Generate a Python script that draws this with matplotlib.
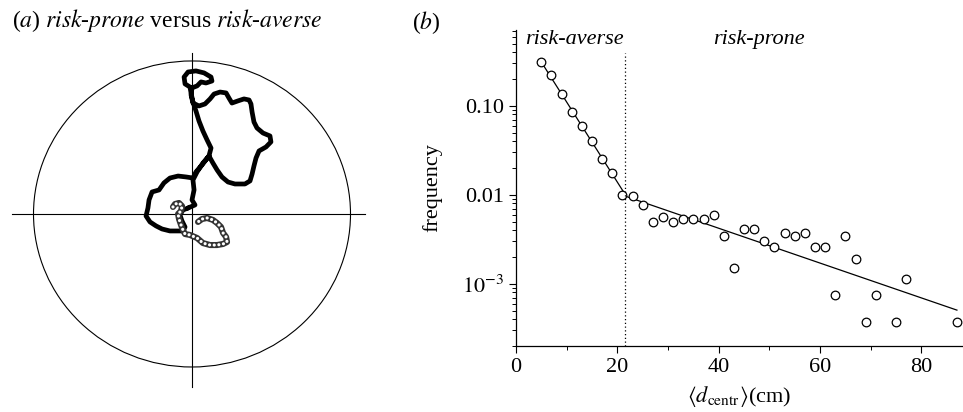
import numpy as np
import matplotlib
matplotlib.use('Agg')
import matplotlib.pyplot as plt
from matplotlib.patches import Ellipse
from matplotlib.ticker import FixedLocator, FixedFormatter, LogLocator, NullFormatter

plt.rcParams['font.family'] = ['Liberation Serif', 'DejaVu Serif']
plt.rcParams['mathtext.fontset'] = 'stix'

# ---------------- panel (a): trajectory in arena units (arena radius = 1) -------------
prone_x = [-0.025, 0.019, 0.0, 0.013, 0.006, 0.032, 0.069, 0.107, 0.120, 0.095, 0.069, 0.044,
           0.025, 0.006, -0.006, -0.013, -0.044, -0.050, -0.025, 0.025, 0.076, 0.120, 0.126,
           0.088, 0.057, 0.032, 0.0, -0.006, 0.006, 0.044, 0.082, 0.114, 0.139, 0.177, 0.215,
           0.233, 0.252, 0.290, 0.328, 0.360, 0.372, 0.379, 0.391, 0.410, 0.448, 0.492, 0.498,
           0.467, 0.423, 0.404, 0.391, 0.379, 0.366, 0.334, 0.271, 0.227, 0.189, 0.158, 0.132,
           0.107, 0.063, 0.025, 0.006, -0.038, -0.088, -0.139, -0.177, -0.208, -0.252, -0.271,
           -0.278, -0.290, -0.265, -0.227, -0.189, -0.139, -0.088, -0.057, -0.044, -0.063,
           -0.076, -0.057, -0.025]
prone_y = [0.039, 0.059, 0.092, 0.157, 0.222, 0.275, 0.333, 0.379, 0.431, 0.484, 0.542, 0.608,
           0.673, 0.732, 0.791, 0.830, 0.850, 0.895, 0.928, 0.935, 0.922, 0.895, 0.869,
           0.856, 0.863, 0.837, 0.824, 0.778, 0.725, 0.706, 0.719, 0.752, 0.784, 0.797, 0.791,
           0.758, 0.725, 0.739, 0.752, 0.745, 0.719, 0.667, 0.601, 0.562, 0.529, 0.510, 0.471,
           0.438, 0.412, 0.366, 0.314, 0.261, 0.216, 0.196, 0.196, 0.209, 0.242, 0.288, 0.333,
           0.379, 0.320, 0.275, 0.235, 0.242, 0.248, 0.235, 0.203, 0.157, 0.144, 0.092,
           0.039, -0.013, -0.052, -0.078, -0.098, -0.111, -0.111, -0.111, -0.085, -0.046,
           -0.007, 0.026, 0.039]

averse_x = [-0.120, -0.107, -0.082, -0.063, -0.069, -0.088, -0.082, -0.069, -0.057, -0.044,
            -0.013, 0.032, 0.069, 0.114, 0.158, 0.196, 0.221, 0.215, 0.196, 0.183, 0.158,
            0.132, 0.095, 0.063, 0.038]
averse_y = [0.046, 0.065, 0.072, 0.052, 0.020, 0.0, -0.033, -0.072, -0.105, -0.131,
            -0.137, -0.157, -0.190, -0.203, -0.203, -0.196, -0.183, -0.150, -0.124, -0.085,
            -0.059, -0.039, -0.026, -0.033, -0.052]

# ---------------- panel (b): distribution of mean distance to centre -------------------
dist = [5, 7, 9, 11, 13, 15, 17, 19, 21, 23, 25, 27, 29, 31, 33, 35, 37, 39, 41, 43, 45,
        47, 49, 51, 53, 55, 57, 59, 61, 63, 65, 67, 69, 71, 75, 77, 87]
freq = [0.31, 0.219, 0.136, 0.0857, 0.0586, 0.040, 0.0253, 0.0174, 0.0100, 0.0098, 0.0076,
        0.0049, 0.0057, 0.0049, 0.0053, 0.0053, 0.0053, 0.0060, 0.0034, 0.0015, 0.0041,
        0.0041, 0.0030, 0.0026, 0.0037, 0.0034, 0.0037, 0.0026, 0.0026, 0.00075, 0.0034,
        0.0019, 0.00037, 0.00075, 0.00037, 0.00114, 0.00037]
fit_x = [5, 21.8, 87]
fit_y = [0.31, 0.00955, 0.000506]
threshold = 21.5
ytick_vals = [1e-3, 1e-2, 1e-1]
ytick_labels = [r'$10^{-3}$', '0.01', '0.10']
xtick_vals = [0, 20, 40, 60, 80]

fig = plt.figure(figsize=(9.63, 4.12), dpi=100)

# ---- panel (a)
ax1 = fig.add_axes([0, 12 / 412, 400 / 963, 360 / 412])
ax1.set_xlim(-1.2114, 1.3123)
ax1.set_ylim(-1.2157, 1.137)
ax1.axis('off')
ax1.add_patch(Ellipse((0, 0), 2, 2, fill=False, edgecolor='black', lw=0.8))
ax1.plot([-1.136, 1.091], [0.0, 0.0], color='black', lw=0.8)
ax1.plot([0.0, 0.0], [-1.131, 1.052], color='black', lw=0.8)
ax1.plot(prone_x, prone_y, color='black', lw=3.4, solid_joinstyle='round',
         solid_capstyle='round')
ax1.plot(averse_x, averse_y, color='#333333', lw=4.4, solid_joinstyle='round',
         solid_capstyle='round')
ax1.plot(averse_x, averse_y, color='white', lw=2.3, linestyle=(0, (0.01, 1.45)),
         dash_capstyle='round')

fig.text(12 / 963, 1 - 20 / 412, r'($a$) $risk$-$prone$ versus $risk$-$averse$',
         va='center', ha='left', fontsize=17)
fig.text(412 / 963, 1 - 23 / 412, r'($b$)', va='center', ha='left', fontsize=17)

# ---- panel (b)
ax2 = fig.add_axes([516 / 963, 66 / 412, 447 / 963, 316 / 412])
ax2.set_yscale('log')
ax2.set_xlim(0, 88.2)
ax2.set_ylim(2e-4, 0.71)
ax2.plot(fit_x, fit_y, color='black', lw=0.9)
ax2.plot(dist, freq, 'o', mfc='white', mec='black', ms=6.2, mew=0.9)
ax2.plot([threshold, threshold], [2e-4, 0.39], color='black', lw=0.9, linestyle=(0, (1, 2)))

for s in ['top', 'right']:
    ax2.spines[s].set_visible(False)
for s in ['left', 'bottom']:
    ax2.spines[s].set_linewidth(0.9)

ax2.yaxis.set_major_locator(FixedLocator(ytick_vals))
ax2.yaxis.set_major_formatter(FixedFormatter(ytick_labels))
ax2.yaxis.set_minor_locator(LogLocator(base=10, subs=np.arange(2, 10)))
ax2.yaxis.set_minor_formatter(NullFormatter())
ax2.xaxis.set_major_locator(FixedLocator(xtick_vals))
ax2.xaxis.set_minor_locator(FixedLocator([10, 30, 50, 70]))
ax2.tick_params(which='major', direction='out', length=5, width=0.8, labelsize=16)
ax2.tick_params(which='minor', direction='out', length=3, width=0.7)

ax2.text(11.6, 0.55, 'risk-averse', style='italic', ha='center', va='center', fontsize=16)
ax2.text(48, 0.55, 'risk-prone', style='italic', ha='center', va='center', fontsize=16)
ax2.set_ylabel('frequency', fontsize=16, labelpad=14)
ax2.set_xlabel(r'$\langle d_{\mathrm{centr}}\rangle$(cm)', fontsize=16, labelpad=5)

fig.savefig('out.png', dpi=100)
